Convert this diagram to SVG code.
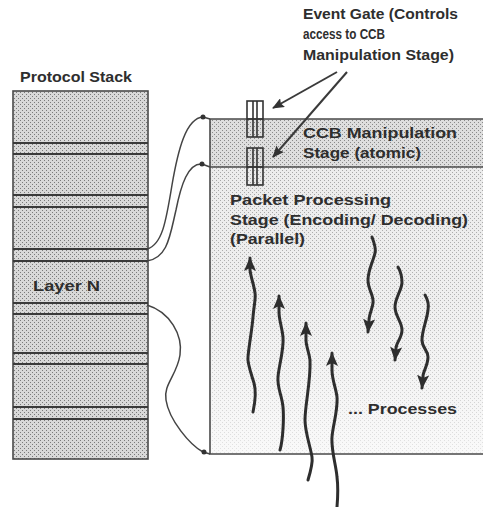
<svg xmlns="http://www.w3.org/2000/svg" width="483" height="507" viewBox="0 0 483 507">
<style>
.t{font-family:"Liberation Sans",Arial,sans-serif;font-weight:bold;font-size:15px;fill:#2e2e2e}
.ln{stroke:#4a4a4a;stroke-width:1.6;fill:none}
.band{stroke:#3a3a3a;stroke-width:2}
.cur{stroke:#444;stroke-width:1.5;fill:none}
.wig{stroke:#2e2e2e;stroke-width:3;fill:none;stroke-linecap:round;marker-end:url(#ah)}
.ga{stroke:#3a3a3a;stroke-width:2;fill:none;marker-end:url(#ah2)}
.gate{fill:none;stroke:#333;stroke-width:1.6}
.dot{fill:#333}
</style>
<defs>
<pattern id="stk" width="4" height="4" patternUnits="userSpaceOnUse">
<rect width="4" height="4" fill="#d8d8d8"/><rect width="1" height="1" fill="#7a7a7a"/><rect x="2" y="2" width="1" height="1" fill="#7a7a7a"/>
</pattern>
<pattern id="ccb" width="4" height="4" patternUnits="userSpaceOnUse">
<rect width="4" height="4" fill="#dedede"/><rect width="1" height="1" fill="#8a8a8a"/><rect x="2" y="2" width="1" height="1" fill="#8a8a8a"/>
</pattern>
<pattern id="pkt" width="4" height="4" patternUnits="userSpaceOnUse">
<rect width="4" height="4" fill="#ececec"/><rect width="1" height="1" fill="#a6a6a6"/><rect x="2" y="2" width="1" height="1" fill="#a6a6a6"/>
</pattern>
<linearGradient id="fade" x1="0" y1="0" x2="0" y2="1">
<stop offset="0" stop-color="#fff" stop-opacity="0"/>
<stop offset="0.45" stop-color="#fff" stop-opacity="0.15"/>
<stop offset="1" stop-color="#fff" stop-opacity="0.7"/>
</linearGradient>
<marker id="ah" markerUnits="userSpaceOnUse" markerWidth="14" markerHeight="12" viewBox="0 0 14 12" refX="13" refY="6" orient="auto">
<path d="M0,0 L14,6 L0,12 L3,6 z" fill="#2e2e2e"/>
</marker>
<marker id="ah2" markerUnits="userSpaceOnUse" markerWidth="12" markerHeight="10" viewBox="0 0 12 10" refX="11" refY="5" orient="auto">
<path d="M0,0 L12,5 L0,10 L2,5 z" fill="#333"/>
</marker>
</defs>

<g id="protocol-stack">
<text class="t" x="20" y="82" textLength="112" lengthAdjust="spacingAndGlyphs">Protocol Stack</text>
<rect x="13" y="91" width="135" height="368" style="fill:url(#stk);stroke:#4a4a4a;stroke-width:1.6"/>
<g class="band">
<line x1="13" y1="143" x2="148" y2="143"/><line x1="13" y1="154" x2="148" y2="154"/>
<line x1="13" y1="195" x2="148" y2="195"/><line x1="13" y1="207" x2="148" y2="207"/>
<line x1="13" y1="249" x2="148" y2="249"/><line x1="13" y1="261" x2="148" y2="261"/>
<line x1="13" y1="303" x2="148" y2="303"/><line x1="13" y1="314" x2="148" y2="314"/>
<line x1="13" y1="353" x2="148" y2="353"/><line x1="13" y1="364" x2="148" y2="364"/>
<line x1="13" y1="407" x2="148" y2="407"/><line x1="13" y1="419" x2="148" y2="419"/>
</g>
<text class="t" x="33" y="291" textLength="67" lengthAdjust="spacingAndGlyphs">Layer N</text>
</g>

<g id="ccb-stage">
<rect x="210" y="119" width="280" height="48" fill="url(#ccb)"/>
<text class="t" x="303" y="138" textLength="154" lengthAdjust="spacingAndGlyphs">CCB Manipulation</text>
<text class="t" x="303" y="158" textLength="118" lengthAdjust="spacingAndGlyphs">Stage (atomic)</text>
</g>

<g id="packet-stage">
<rect x="210" y="167" width="280" height="287" fill="url(#pkt)"/>
<rect x="210" y="167" width="280" height="287" fill="url(#fade)"/>
<text class="t" x="230" y="205" textLength="161" lengthAdjust="spacingAndGlyphs">Packet Processing</text>
<text class="t" x="230" y="225" textLength="238" lengthAdjust="spacingAndGlyphs">Stage (Encoding/ Decoding)</text>
<text class="t" x="230" y="244" textLength="75" lengthAdjust="spacingAndGlyphs">(Parallel)</text>
<text class="t" x="348" y="414" textLength="109" lengthAdjust="spacingAndGlyphs">... Processes</text>
</g>

<g id="box-outline" class="ln">
<path d="M483,119 L210,119 L210,454 L483,454"/>
<line x1="210" y1="167" x2="483" y2="167"/>
</g>

<g id="event-gate-1">
<rect x="247" y="101" width="16" height="36" class="gate"/>
<line x1="253" y1="101" x2="253" y2="137" class="gate"/>
<line x1="257" y1="101" x2="257" y2="137" class="gate"/>
<line x1="247" y1="119" x2="263" y2="119" class="gate"/>
</g>
<g id="event-gate-2">
<rect x="247" y="148" width="16" height="37" class="gate"/>
<line x1="253" y1="148" x2="253" y2="185" class="gate"/>
<line x1="257" y1="148" x2="257" y2="185" class="gate"/>
<line x1="247" y1="167" x2="263" y2="167" class="gate"/>
</g>

<g id="event-gate-label">
<text class="t" x="303" y="19" textLength="155" lengthAdjust="spacingAndGlyphs">Event Gate (Controls</text>
<text class="t" x="303" y="39" textLength="82" lengthAdjust="spacingAndGlyphs">access to CCB</text>
<text class="t" x="303" y="60" textLength="151" lengthAdjust="spacingAndGlyphs">Manipulation Stage)</text>
</g>

<g id="connectors">
<path class="ga" d="M337,72 L273,108"/>
<path class="ga" d="M347,72 L273,157"/>
<path class="cur" d="M147,249 C162,245 166,222 172,185 C178,150 186,118 203,117 L210,119"/>
<path class="cur" d="M147,261 C168,258 170,235 176,210 C181,185 188,163 202,164 L210,167"/>
<path class="cur" d="M147,305 C170,312 183,335 180,355 C177,375 163,385 166,400 C169,420 190,445 203,452 L210,454"/>
<circle class="dot" cx="203" cy="117" r="2.5"/>
<circle class="dot" cx="202" cy="164" r="2.5"/>
<circle class="dot" cx="204" cy="452" r="2.5"/>
</g>

<g id="processes">
<path class="wig" d="M253,412 C256,398 256,390 254,383 C250,370 247,362 248,357 C249,345 252,330 253,317 C254,305 256,298 255,293 C254,285 251,278 250,270 L250,258"/>
<path class="wig" d="M280,450 C283,440 284,418 283,407 C282,395 277,388 278,377 C279,365 284,350 283,337 C282,327 279,320 279,312 L279,296"/>
<path class="wig" d="M308,480 C311,470 313,463 312,457 C310,445 305,432 305,420 C305,405 311,380 310,360 C309,352 306,346 306,340 L306,323"/>
<path class="wig" d="M337,507 C338,495 338,485 337,477 C336,465 331,450 332,437 C333,425 338,410 337,397 C336,388 332,380 332,370 L332,353"/>
<path class="wig" d="M372,237 C375,245 376,250 375,253 C373,262 368,270 368,280 C368,290 374,295 373,303 C372,310 369,315 369,320 L368,332"/>
<path class="wig" d="M398,267 C401,272 402,278 402,283 C401,292 395,298 395,307 C395,316 402,322 402,330 C402,338 396,343 396,348 L395,360"/>
<path class="wig" d="M425,295 C428,300 429,305 428,310 C427,320 422,330 422,340 C422,348 428,350 428,357 C428,365 423,372 423,376 L422,388"/>
</g>
</svg>
